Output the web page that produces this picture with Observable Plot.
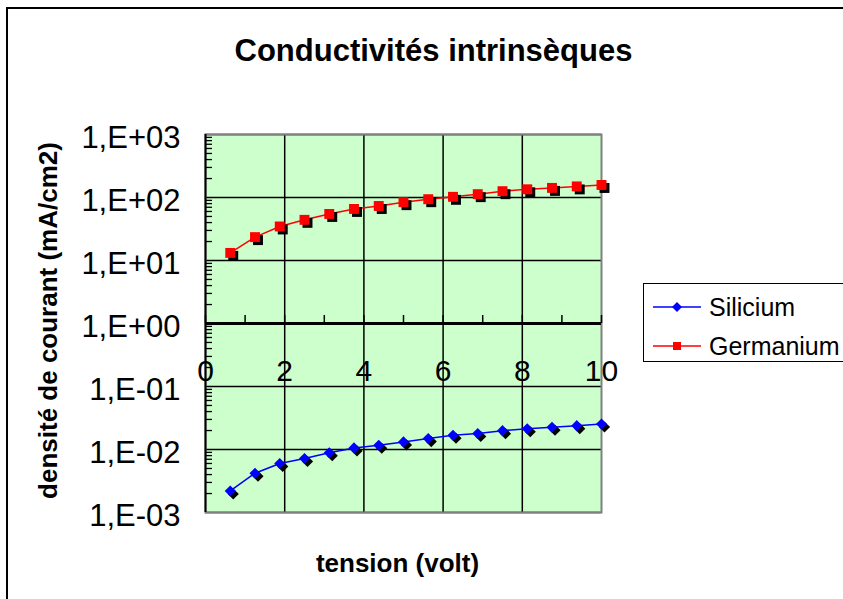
<!DOCTYPE html>
<html>
<head>
<meta charset="utf-8">
<script src="https://cdn.jsdelivr.net/npm/d3@7"></script>
<script src="https://cdn.jsdelivr.net/npm/@observablehq/plot@0.6"></script>
<style>
  html, body { margin: 0; padding: 0; background: #fff; overflow: hidden; }
  #wrap { position: relative; width: 843px; height: 599px; overflow: hidden; font-family: "Liberation Sans", Arial, sans-serif; }
  #border { position: absolute; left: 6px; top: 7px; width: 900px; height: 700px; border: 2px solid #000; box-sizing: border-box; }
  #chart { position: absolute; left: 0; top: 0; }
  #legend { position: absolute; left: 643px; top: 283px; width: 240px; height: 79px; border: 1.5px solid #000; background: #fff; box-sizing: border-box; }
  .item { position: absolute; left: 0; height: 30px; display: flex; align-items: center; font-size: 25px; color: #000; }
  .item svg { margin-left: 9px; margin-right: 8px; }
</style>
</head>
<body>
<div id="wrap">
  <div id="border"></div>
  <div id="chart"></div>
  <div id="legend"></div>
</div>
<script>
// ---- data ----
const title = "Conductivités intrinsèques";
const xTitle = "tension (volt)";
const yTitle = "densité de courant (mA/cm2)";
const seriesNames = ["Silicium", "Germanium"];
const seriesColors = ["#0000ff", "#ff0000"];
const voltage = [0.625, 1.25, 1.875, 2.5, 3.125, 3.75, 4.375, 5, 5.625, 6.25, 6.875, 7.5, 8.125, 8.75, 9.375, 10];
const silicium = [0.0022, 0.0042, 0.0060, 0.0072, 0.0089, 0.0106, 0.0117, 0.0132, 0.0149, 0.0168, 0.0179, 0.0199, 0.0214, 0.0225, 0.0239, 0.0254];
const germanium = [13.2, 23.5, 34.7, 44.2, 54.8, 65.8, 73.3, 84.3, 94, 102.5, 113, 126, 135, 142, 150, 158];
const xTicks = [0, 2, 4, 6, 8, 10];
const xAllTicks = [0, 1, 2, 3, 4, 5, 6, 7, 8, 9, 10];
const yTicks = [1e-3, 1e-2, 1e-1, 1e0, 1e1, 1e2, 1e3];
const yTickLabels = ["1,E-03", "1,E-02", "1,E-01", "1,E+00", "1,E+01", "1,E+02", "1,E+03"];

// ---- layout ----
const W = 843, H = 599;
const mL = 205, mR = 242, mT = 134, mB = 87;
const innerW = W - mL - mR, innerH = H - mT - mB;
const yDomain = [1e-3, 1e3];
const yPx = v => mT + (Math.log10(yDomain[1]) - Math.log10(v)) / (Math.log10(yDomain[1]) - Math.log10(yDomain[0])) * innerH;
const axisY0 = 1; // x axis crosses at 1
const axisPx = yPx(axisY0);

const yMinor = [];
for (let e = -3; e < 3; e++) for (let k = 2; k <= 9; k++) yMinor.push(k * Math.pow(10, e));

const si = voltage.map((v, i) => ({v, j: silicium[i]}));
const ge = voltage.map((v, i) => ({v, j: germanium[i]}));

const font = "Liberation Sans, Arial, sans-serif";

const chart = Plot.plot({
  width: W, height: H,
  marginLeft: mL, marginRight: mR, marginTop: mT, marginBottom: mB,
  x: {domain: [0, 10], axis: null},
  y: {type: "log", domain: yDomain, axis: null},
  style: {fontFamily: font, background: "transparent", overflow: "visible", color: "#000"},
  marks: [
    Plot.frame({fill: "#ccffcc", stroke: null}),
    Plot.ruleY(yTicks, {y: d => d, stroke: "#000", strokeWidth: 1.5}),
    Plot.ruleX(xTicks.slice(1, -1), {x: d => d, stroke: "#000", strokeWidth: 1.5}),
    Plot.frame({stroke: "#808080", strokeWidth: 2}),
    Plot.ruleX([0], {x: d => d, stroke: "#000", strokeWidth: 2}),
    Plot.tickY(yMinor, {y: d => d, stroke: "#000", strokeWidth: 1.3, insetRight: innerW - 7}),
    Plot.ruleY([axisY0], {y: d => d, stroke: "#000", strokeWidth: 3}),
    Plot.tickX(xAllTicks, {x: d => d, stroke: "#000", strokeWidth: 1.5, insetTop: axisPx - 8 - mT, insetBottom: mT + innerH - axisPx}),
    // y tick labels
    Plot.text(yTicks, {y: d => d, text: (d, i) => yTickLabels[i], frameAnchor: "left", textAnchor: "end", dx: -25, dy: 4, fontSize: 31, fill: "#000"}),
    // x tick labels
    Plot.text(xTicks, {x: d => d, y: () => axisY0, text: d => String(d), dy: 48, fontSize: 30, fill: "#000", lineAnchor: "middle"}),
    // titles
    Plot.text([title], {frameAnchor: "top", text: d => d, dx: 30, dy: -83, lineAnchor: "middle", fontSize: 31, fontWeight: "bold", fill: "#000"}),
    Plot.text([xTitle], {frameAnchor: "bottom", text: d => d, dx: -6, dy: 51, lineAnchor: "middle", fontSize: 26, fontWeight: "bold", fill: "#000"}),
    Plot.text([yTitle], {frameAnchor: "left", text: d => d, dx: -157, dy: -3, rotate: -90, lineAnchor: "middle", textAnchor: "middle", fontSize: 26, fontWeight: "bold", fill: "#000"}),
    // series
    Plot.line(si, {x: "v", y: "j", stroke: seriesColors[0], strokeWidth: 1.5}),
    Plot.line(ge, {x: "v", y: "j", stroke: seriesColors[1], strokeWidth: 1.5}),
    Plot.dot(si, {x: "v", y: "j", symbol: "diamond2", r: 5, fill: "#000", dx: 3, dy: 3}),
    Plot.dot(si, {x: "v", y: "j", symbol: "diamond2", r: 5, fill: seriesColors[0]}),
    Plot.dot(ge, {x: "v", y: "j", symbol: "square", r: 5.6, fill: "#000", dx: 3, dy: 3}),
    Plot.dot(ge, {x: "v", y: "j", symbol: "square", r: 5.6, fill: seriesColors[1]})
  ]
});
document.getElementById("chart").appendChild(chart);

// ---- legend ----
const legend = document.getElementById("legend");
const tops = [8, 47];
seriesNames.forEach((name, i) => {
  const item = document.createElement("div");
  item.className = "item";
  item.style.top = tops[i] + "px";
  const marker = i === 0
    ? `<polygon points="24,2 29,7 24,12 19,7" fill="${seriesColors[i]}"/>`
    : `<rect x="20" y="3" width="8" height="8" fill="${seriesColors[i]}"/>`;
  item.innerHTML = `<svg width="48" height="14"><line x1="0" y1="7" x2="48" y2="7" stroke="${seriesColors[i]}" stroke-width="1.5"/>${marker}</svg><span>${name}</span>`;
  legend.appendChild(item);
});
</script>
</body>
</html>
